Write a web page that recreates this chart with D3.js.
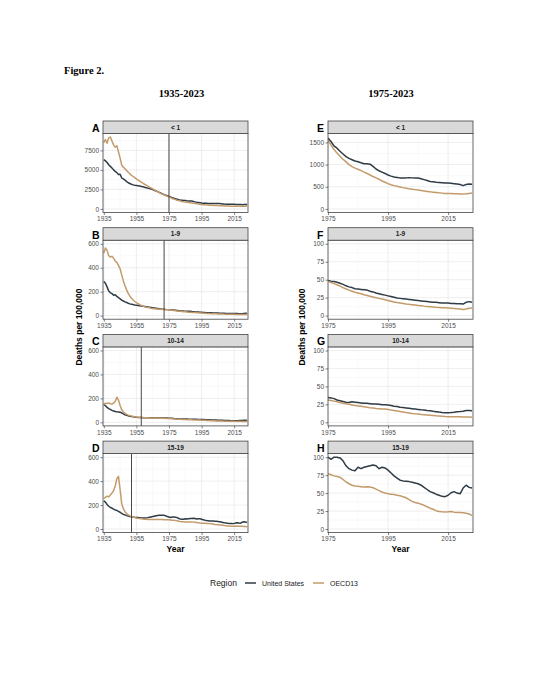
<!DOCTYPE html>
<html>
<head>
<meta charset="utf-8">
<script src="https://cdn.jsdelivr.net/npm/d3@7"></script>
<style>
  body { margin: 0; background: #fff; }
  svg { display: block; }
</style>
</head>
<body>
<script>
// years on the x axis
const years = d3.range(1935, 2024);

// deaths per 100,000, one value per year 1935-2023
const usInfant = [
  6300, 6150, 5950, 5650, 5450, 5250, 5000, 4800, 4650, 4400,
  4450, 3950, 3850, 3700, 3500, 3350, 3250, 3150, 3080, 3030,
  3000, 2970, 2930, 2880, 2830, 2780, 2720, 2660, 2600, 2540,
  2470, 2390, 2300, 2210, 2120, 2030, 1930, 1830, 1750, 1680,
  1600, 1520, 1420, 1370, 1300, 1240, 1180, 1140, 1110, 1080,
  1065, 1040, 1020, 1020, 1010, 960, 900, 860, 830, 800,
  765, 740, 720, 710, 700, 700, 700, 705, 700, 695,
  695, 680, 660, 640, 620, 610, 600, 595, 590, 585,
  585, 580, 570, 560, 550, 525, 550, 560, 555
];
const oecdInfant = [
  8500, 8900, 8400, 9100, 9200, 8700, 8200, 7900, 8100, 7300,
  6500, 5600, 5350, 5150, 4900, 4700, 4500, 4300, 4150, 4000,
  3850, 3700, 3560, 3420, 3290, 3160, 3040, 2920, 2800, 2680,
  2560, 2440, 2320, 2200, 2090, 1980, 1880, 1790, 1700, 1630,
  1560, 1440, 1340, 1260, 1190, 1120, 1060, 1000, 955, 920,
  895, 865, 830, 800, 765, 730, 700, 670, 630, 600,
  570, 545, 525, 510, 495, 480, 468, 455, 445, 435,
  425, 415, 405, 395, 385, 378, 370, 362, 356, 350,
  348, 345, 342, 340, 338, 335, 340, 350, 360
];
const us1to9 = [
  285, 270, 240, 205, 190, 185, 170, 175, 160, 150,
  140, 130, 122, 115, 110, 103, 98, 95, 92, 88,
  86, 84, 82, 80, 78, 76, 74, 72, 70, 68,
  66, 64, 62, 60, 58, 56, 54, 53, 51, 50,
  49, 48, 47.5, 46.5, 45, 43.5, 41.5, 40, 39, 37.5,
  37, 36.5, 36, 35.5, 34, 33, 31.5, 30.5, 29.5, 28.5,
  27.5, 26.5, 25.5, 24.5, 24, 23.5, 23, 22.5, 22, 21.5,
  21, 20.5, 20, 19.5, 19, 18.5, 18.5, 18, 17.5, 17.5,
  17.5, 17, 17, 16.5, 16.5, 16, 18.5, 19.5, 18.5
];
const oecd1to9 = [
  520, 565, 545, 500, 490, 495, 480, 455, 445, 420,
  390, 340, 290, 250, 215, 185, 162, 145, 130, 118,
  108, 100, 92, 86, 80, 75, 71, 68, 65, 62,
  60, 58, 56, 55, 54, 53, 52, 51, 50, 49,
  48, 46, 44.5, 43, 41, 39, 37, 35.5, 34, 32.5,
  31.5, 30.5, 29, 28, 27, 26, 25, 24, 23, 22,
  21, 20, 19, 18.2, 17.6, 17, 16.3, 15.7, 15.2, 14.7,
  14.2, 13.7, 13.2, 12.8, 12.4, 12, 11.6, 11.3, 11, 10.8,
  10.6, 10.3, 10, 9.6, 9.2, 8.5, 9.3, 10.2, 10.5
];
const us10to14 = [
  150, 138, 125, 115, 108, 100, 95, 90, 88, 87,
  85, 78, 70, 63, 58, 54, 51, 48, 46, 44,
  42, 41, 40, 40, 39, 39, 38, 38, 38, 38,
  38, 38, 38, 38, 37, 37, 36, 36, 35, 35,
  34.5, 34, 33, 31, 30, 29, 28, 27.5, 28.5, 28,
  27.5, 27, 26.5, 26.5, 26, 25.5, 25.5, 25, 24.5, 24.5,
  24, 23.5, 22.5, 22, 21, 20.5, 20, 19.5, 19, 18.5,
  18, 17.5, 17.2, 16.5, 16, 15.3, 14.8, 14.2, 13.7, 13.4,
  13.4, 13.5, 14, 14.6, 15, 15.5, 16.3, 16.5, 16
];
const oecd10to14 = [
  150, 160, 158, 162, 155, 152, 160, 175, 210, 185,
  140, 105, 88, 75, 66, 60, 56, 52, 49, 46,
  44, 43, 42, 41, 40, 39, 38, 38, 37, 37,
  36, 36, 35, 35, 34, 34, 33, 33, 32, 32,
  31, 30.5, 29.5, 28.5, 27.5, 26.5, 25.7, 25, 24.2, 23.4,
  22.8, 22.2, 21.6, 21, 20.4, 19.9, 19.3, 19, 18.7, 18.4,
  18, 17.2, 16.5, 15.8, 15.1, 14.3, 13.6, 13, 12.4, 11.9,
  11.5, 11, 10.6, 10.2, 9.8, 9.4, 9, 8.7, 8.4, 8.1,
  7.9, 7.8, 7.8, 7.9, 7.8, 7.5, 7.4, 7.3, 7
];
const us15to19 = [
  235, 225, 205, 190, 180, 175, 165, 160, 155, 148,
  140, 130, 122, 118, 112, 108, 105, 103, 100, 98,
  97, 96, 95, 93, 92, 92, 93, 95, 98, 101,
  104, 107, 110, 113, 115, 116, 115, 114, 110, 104,
  100, 97, 100, 100, 99, 95, 88, 84, 82, 81,
  86, 84, 86, 87, 88, 89, 88, 84, 86, 85,
  82, 78, 74, 71, 68, 67, 66.5, 66, 65, 64,
  63, 61, 58, 55, 52, 50.5, 48.5, 47, 45.5, 45,
  47, 50.5, 52, 50, 49, 57, 61, 58, 57
];
const oecd15to19 = [
  255, 265, 275, 268, 285, 300, 320, 360, 420, 440,
  330, 210, 170, 145, 130, 118, 110, 105, 100, 96,
  92, 89, 87, 85, 83, 82, 81, 80, 80, 80,
  80, 80, 80, 80, 79, 79, 79, 78, 78, 77,
  77, 75.5, 74, 73, 72, 69, 65.5, 63, 61, 60,
  59.5, 59, 58.5, 59, 58.5, 57.5, 55.5, 53.5, 51.5, 50,
  49, 48.5, 48, 47, 46.2, 45, 43.5, 41, 38.5, 37,
  36, 34.5, 33, 31, 29, 27.5, 25.5, 24.3, 24, 23.8,
  24, 24.3, 23.5, 23, 23, 22.5, 22, 21, 18.5
];

const ageGroups = ["< 1", "1-9", "10-14", "15-19"];
const leftLetters = ["A", "B", "C", "D"];
const rightLetters = ["E", "F", "G", "H"];
const markerYears = [1975, 1972, 1958, 1952];

const leftLimits = [[0, 9200], [0, 600], [0, 600], [0, 600]];
const rightLimits = [[0, 1620], [0, 100], [0, 100], [0, 100]];
const leftYTicks = [[0, 2500, 5000, 7500], [0, 200, 400, 600], [0, 200, 400, 600], [0, 200, 400, 600]];
const rightYTicks = [[0, 500, 1000, 1500], [0, 25, 50, 75, 100], [0, 25, 50, 75, 100], [0, 25, 50, 75, 100]];
const leftXTicks = [1935, 1955, 1975, 1995, 2015];
const rightXTicks = [1975, 1995, 2015];

const seriesNames = ["United States", "OECD13"];
const colors = { "United States": "#2f3b45", "OECD13": "#c39b6b" };

const usSeries = [usInfant, us1to9, us10to14, us15to19];
const oecdSeries = [oecdInfant, oecd1to9, oecd10to14, oecd15to19];

const sans = "'Liberation Sans', Arial, sans-serif";
const serif = "'Liberation Serif', 'Times New Roman', serif";

const panelW = 145, stripH = 12.5, plotH = 79, rowStep = 106.7, firstTop = 121;
const colX = [103, 328];

const svg = d3.select("body").append("svg")
    .attr("width", 541)
    .attr("height", 700)
    .style("font-family", sans);

// titles
svg.append("text").attr("x", 64).attr("y", 74)
    .style("font-family", serif).style("font-weight", "bold").style("font-size", "10.5px")
    .text("Figure 2.");
svg.append("text").attr("x", 181.5).attr("y", 97).attr("text-anchor", "middle")
    .style("font-family", serif).style("font-weight", "bold").style("font-size", "10.5px")
    .text("1935-2023");
svg.append("text").attr("x", 391).attr("y", 97).attr("text-anchor", "middle")
    .style("font-family", serif).style("font-weight", "bold").style("font-size", "10.5px")
    .text("1975-2023");

function expand(lim) {
    let pad = (lim[1] - lim[0]) * 0.05;
    return [lim[0] - pad, lim[1] + pad];
}

function midpoints(ticks) {
    let step = ticks[1] - ticks[0];
    let out = [];
    ticks.forEach(t => { out.push(t - step / 2); out.push(t + step / 2); });
    return Array.from(new Set(out));
}

function drawPanel(col, row) {
    let left = col === 0;
    let x0 = colX[col];
    let top = firstTop + row * rowStep;
    let plotTop = top + stripH;

    let xScale = d3.scaleLinear()
        .domain(left ? [1934.5, 2023.5] : [1975, 2023.3])
        .range([0, panelW]);
    let yScale = d3.scaleLinear()
        .domain(expand(left ? leftLimits[row] : rightLimits[row]))
        .range([plotH, 0]);
    let xTicks = left ? leftXTicks : rightXTicks;
    let yTicks = left ? leftYTicks[row] : rightYTicks[row];

    let g = svg.append("g").attr("transform", "translate(" + x0 + "," + plotTop + ")");
    let clipId = "clip" + col + row;
    g.append("clipPath").attr("id", clipId)
        .append("rect").attr("width", panelW).attr("height", plotH);

    g.append("rect").attr("width", panelW).attr("height", plotH).attr("fill", "#fff");

    let xDom = xScale.domain(), yDom = yScale.domain();
    let grid = g.append("g").attr("clip-path", "url(#" + clipId + ")");
    grid.selectAll(".xminor")
        .data(midpoints(xTicks).filter(v => v > xDom[0] && v < xDom[1]))
        .enter().append("line")
        .attr("x1", d => xScale(d)).attr("x2", d => xScale(d))
        .attr("y1", 0).attr("y2", plotH)
        .attr("stroke", "#f0f0f0").attr("stroke-width", 0.4);
    grid.selectAll(".yminor")
        .data(midpoints(yTicks).filter(v => v > yDom[0] && v < yDom[1]))
        .enter().append("line")
        .attr("y1", d => yScale(d)).attr("y2", d => yScale(d))
        .attr("x1", 0).attr("x2", panelW)
        .attr("stroke", "#f0f0f0").attr("stroke-width", 0.4);
    grid.selectAll(".xmajor").data(xTicks).enter().append("line")
        .attr("x1", d => xScale(d)).attr("x2", d => xScale(d))
        .attr("y1", 0).attr("y2", plotH)
        .attr("stroke", "#e6e6e6").attr("stroke-width", 0.7);
    grid.selectAll(".ymajor").data(yTicks).enter().append("line")
        .attr("y1", d => yScale(d)).attr("y2", d => yScale(d))
        .attr("x1", 0).attr("x2", panelW)
        .attr("stroke", "#e6e6e6").attr("stroke-width", 0.7);

    let line = d3.line()
        .x(d => xScale(d.year))
        .y(d => yScale(d.value));

    let minYear = left ? 1935 : 1975;
    [usSeries[row], oecdSeries[row]].forEach((vals, i) => {
        let pts = years.map((yr, j) => ({ year: yr, value: vals[j] }))
            .filter(d => d.year >= minYear);
        grid.append("path")
            .datum(pts)
            .attr("d", line)
            .attr("fill", "none")
            .attr("stroke", colors[seriesNames[i]])
            .attr("stroke-width", 1.5)
            .attr("stroke-linejoin", "round");
    });

    if (left) {
        g.append("line")
            .attr("x1", xScale(markerYears[row])).attr("x2", xScale(markerYears[row]))
            .attr("y1", 0).attr("y2", plotH)
            .attr("stroke", "#333").attr("stroke-width", 0.9);
    }

    g.append("rect").attr("width", panelW).attr("height", plotH)
        .attr("fill", "none").attr("stroke", "#444").attr("stroke-width", 0.8);

    // strip
    svg.append("rect")
        .attr("x", x0).attr("y", top).attr("width", panelW).attr("height", stripH)
        .attr("fill", "#d9d9d9").attr("stroke", "#444").attr("stroke-width", 0.8);
    svg.append("text")
        .attr("x", x0 + panelW / 2).attr("y", top + 8.6)
        .attr("text-anchor", "middle")
        .style("font-size", "6.5px").style("font-weight", "bold").attr("fill", "#1a1a1a")
        .text(ageGroups[row]);

    // panel letter
    svg.append("text")
        .attr("x", left ? 92 : 317).attr("y", top + 11)
        .style("font-size", "10.5px").style("font-weight", "bold").attr("fill", "#000")
        .text(left ? leftLetters[row] : rightLetters[row]);

    // axes
    let yAxis = g.append("g")
        .call(d3.axisLeft(yScale).tickValues(yTicks).tickSize(2.5).tickPadding(1.5).tickFormat(d3.format("d")));
    let xAxis = g.append("g")
        .attr("transform", "translate(0," + plotH + ")")
        .call(d3.axisBottom(xScale).tickValues(xTicks).tickSize(2.5).tickPadding(1.5).tickFormat(d3.format("d")));
    [xAxis, yAxis].forEach(a => {
        a.select(".domain").remove();
        a.selectAll("line").attr("stroke", "#333").attr("stroke-width", 0.6);
        a.selectAll("text").attr("fill", "#4d4d4d")
            .style("font-size", "6.5px").style("font-family", sans);
    });
}

for (let col = 0; col < 2; col++) {
    for (let row = 0; row < 4; row++) {
        drawPanel(col, row);
    }
}

// axis titles
[82, 305].forEach(xp => {
    svg.append("text")
        .attr("transform", "translate(" + xp + ",327) rotate(-90)")
        .attr("text-anchor", "middle")
        .style("font-size", "8.5px").style("font-weight", "bold")
        .text("Deaths per 100,000");
});
colX.forEach(xp => {
    svg.append("text")
        .attr("x", xp + panelW / 2).attr("y", 552)
        .attr("text-anchor", "middle")
        .style("font-size", "8.5px").style("font-weight", "bold")
        .text("Year");
});

// legend
let legend = svg.append("g");
legend.append("text").attr("x", 210).attr("y", 586)
    .style("font-size", "8.5px").attr("fill", "#1a1a1a").text("Region");
let keyX = [245, 313];
seriesNames.forEach((name, i) => {
    legend.append("line")
        .attr("x1", keyX[i]).attr("x2", keyX[i] + 11)
        .attr("y1", 583).attr("y2", 583)
        .attr("stroke", colors[name]).attr("stroke-width", 1.5);
    legend.append("text")
        .attr("x", keyX[i] + 17).attr("y", 585.5)
        .style("font-size", "7px").attr("fill", "#1a1a1a")
        .text(name);
});
</script>
</body>
</html>
